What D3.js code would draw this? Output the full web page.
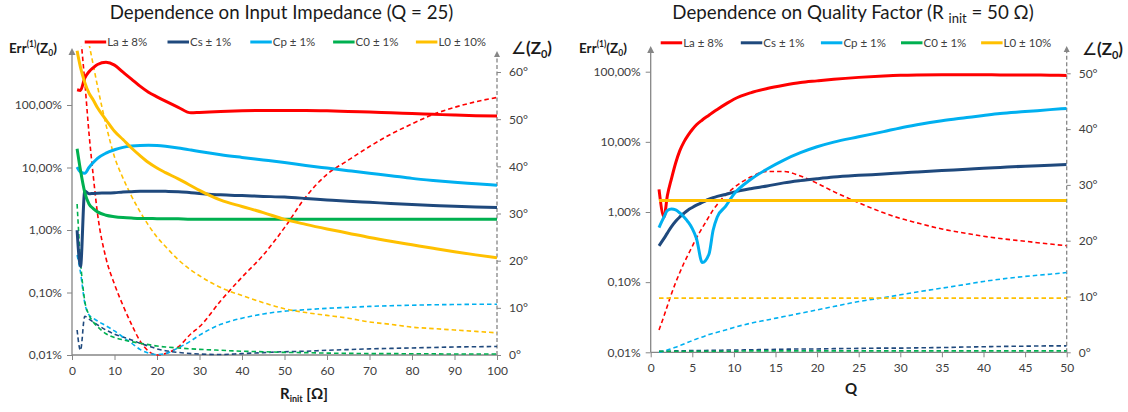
<!DOCTYPE html>
<html>
<head>
<meta charset="utf-8">
<script src="https://cdn.jsdelivr.net/npm/d3@7"></script>
<style>
  body { margin: 0; background: #fff; }
  text { font-family: Lato, "Open Sans", sans-serif; }
</style>
</head>
<body>
<svg id="chart" width="1128" height="412"></svg>
<script>
// ---------- data ----------
const seriesNames = ["La ± 8%", "Cs ± 1%", "Cp ± 1%", "C0 ± 1%", "L0 ± 10%"];

const errTicks = [0.0001, 0.001, 0.01, 0.1, 1];
const errTickLabels = ["0,01%", "0,10%", "1,00%", "10,00%", "100,00%"];
const angleTicksR = [0, 10, 20, 30, 40, 50, 60];
const angleTicksQ = [0, 10, 20, 30, 40, 50];
const rTicks = [0, 10, 20, 30, 40, 50, 60, 70, 80, 90, 100];
const qTicks = [0, 5, 10, 15, 20, 25, 30, 35, 40, 45, 50];

// Dependence on input impedance (Q = 25), x = R_init [Ω]
const rInit = [1.2, 2, 3, 4, 5, 6, 8, 10, 12, 14, 16, 18, 20, 22, 25, 28, 30, 35, 40, 45, 50, 55, 60, 65, 70, 75, 80, 85, 90, 95, 100];
// relative error of Z0 (fraction, 1 = 100 %)
const errLaR = [1.75, 1.71, 2.7, 3.4, 3.95, 4.45, 4.82, 4.35, 3.35, 2.6, 2.0, 1.6, 1.35, 1.15, 0.92, 0.75, 0.76, 0.79, 0.81, 0.82, 0.82, 0.82, 0.81, 0.79, 0.77, 0.75, 0.73, 0.71, 0.69, 0.675, 0.665];
const errCsR = [0.0099, 0.0026, 0.042, 0.038, 0.0385, 0.0388, 0.039, 0.0395, 0.0405, 0.041, 0.0415, 0.0417, 0.0417, 0.0415, 0.041, 0.0395, 0.0385, 0.0365, 0.0355, 0.0345, 0.0336, 0.032, 0.0303, 0.0288, 0.0277, 0.0266, 0.0256, 0.0247, 0.0239, 0.0233, 0.0229];
const errCpR = [0.102, 0.085, 0.081, 0.1, 0.12, 0.14, 0.17, 0.192, 0.21, 0.22, 0.225, 0.226, 0.224, 0.218, 0.205, 0.19, 0.18, 0.16, 0.145, 0.132, 0.12, 0.108, 0.098, 0.089, 0.081, 0.074, 0.067, 0.062, 0.058, 0.055, 0.052];
const errC0R = [0.2, 0.09, 0.04, 0.026, 0.022, 0.0195, 0.0172, 0.0163, 0.0158, 0.0155, 0.0153, 0.0153, 0.0152, 0.0152, 0.0151, 0.0149, 0.0149, 0.0149, 0.0149, 0.0149, 0.0149, 0.0149, 0.0149, 0.0149, 0.0149, 0.0149, 0.0149, 0.0149, 0.0149, 0.0149, 0.0149];
const errL0R = [7.4, 4.0, 2.3, 1.55, 1.2, 0.9, 0.58, 0.38, 0.28, 0.205, 0.155, 0.12, 0.098, 0.083, 0.0656, 0.051, 0.043, 0.030, 0.0238, 0.019, 0.0148, 0.0123, 0.0104, 0.0089, 0.0076, 0.0066, 0.0058, 0.0051, 0.0045, 0.004, 0.0036];
// phase angle of Z0 (degrees)
const angLaR = [null, 68, 58, 47, 38, 30, 20.5, 15, 10.5, 6.5, 3, 0.8, 0, 0.3, 1.7, 4.5, 6, 11.5, 16.5, 21.2, 27, 33.5, 38.3, 41.3, 44.2, 46.8, 49, 51, 52.5, 53.7, 54.6];
const angCsR = [5.3, 1.0, 8.2, 7.6, 7, 6.4, 5.3, 4.4, 3.8, 3.2, 2.5, 1.9, 1.3, 0.9, 0.55, 0.3, 0.2, 0.1, 0.3, 0.5, 0.7, 0.8, 1.0, 1.15, 1.3, 1.4, 1.5, 1.6, 1.7, 1.75, 1.8];
const angCpR = [21.2, 17.5, 11, 8.5, 7.8, 7.2, 6.2, 5.1, 3.8, 2.5, 1.2, 0.4, 0.1, 0.3, 1.5, 3.0, 4.2, 6.5, 7.8, 8.7, 9.3, 9.6, 9.9, 10.1, 10.3, 10.45, 10.55, 10.65, 10.7, 10.75, 10.75];
const angC0R = [32, 20, 11.5, 8.5, 7, 6, 4.5, 3.7, 3.2, 2.8, 2.5, 2.2, 1.9, 1.7, 1.5, 1.3, 1.2, 1.0, 0.8, 0.7, 0.55, 0.5, 0.4, 0.35, 0.3, 0.3, 0.25, 0.25, 0.2, 0.2, 0.2];
const angL0R = [null, null, null, 66, 61.5, 57, 48.8, 42, 37.5, 33.7, 30.4, 27.5, 25, 23, 20.2, 18, 16.8, 14.3, 12.6, 11.1, 9.8, 9, 8.4, 7.8, 7, 6.5, 5.9, 5.6, 5.3, 5, 4.7];

// Dependence on quality factor (R init = 50 Ω), x = Q
const qFactor = [1, 1.6, 2, 2.5, 3, 3.5, 4, 4.5, 5, 5.5, 6.2, 7, 7.5, 8, 9, 10, 12, 14, 16, 18, 20, 22, 25, 28, 30, 32, 35, 38, 40, 42, 45, 48, 50];
const errLaQ = [0.021, 0.0085, 0.017, 0.03, 0.05, 0.075, 0.1, 0.125, 0.15, 0.175, 0.205, 0.24, 0.265, 0.29, 0.345, 0.405, 0.5, 0.575, 0.64, 0.7, 0.74, 0.78, 0.83, 0.87, 0.89, 0.9, 0.905, 0.905, 0.905, 0.9, 0.9, 0.89, 0.885];
const errCsQ = [0.0033, 0.0042, 0.005, 0.0062, 0.0074, 0.0085, 0.0096, 0.0107, 0.0116, 0.0125, 0.0137, 0.0152, 0.016, 0.0167, 0.0178, 0.0192, 0.0215, 0.0235, 0.026, 0.028, 0.0298, 0.0315, 0.0333, 0.0348, 0.036, 0.0372, 0.039, 0.0407, 0.042, 0.0432, 0.045, 0.0463, 0.0474];
const errCpQ = [0.006, 0.0085, 0.0105, 0.011, 0.0107, 0.0097, 0.0085, 0.0072, 0.0058, 0.0042, 0.0019, 0.0025, 0.0055, 0.0085, 0.012, 0.018, 0.029, 0.041, 0.055, 0.07, 0.085, 0.099, 0.118, 0.14, 0.158, 0.175, 0.2, 0.222, 0.238, 0.254, 0.27, 0.288, 0.3];
const errC0Q = [0.0146, 0.0146, 0.0146, 0.0146, 0.0146, 0.0146, 0.0146, 0.0146, 0.0146, 0.0146, 0.0146, 0.0146, 0.0146, 0.0146, 0.0146, 0.0146, 0.0146, 0.0146, 0.0146, 0.0146, 0.0146, 0.0146, 0.0146, 0.0146, 0.0146, 0.0146, 0.0146, 0.0146, 0.0146, 0.0146, 0.0146, 0.0146, 0.0146];
const errL0Q = [0.0146, 0.0146, 0.0146, 0.0146, 0.0146, 0.0146, 0.0146, 0.0146, 0.0146, 0.0146, 0.0146, 0.0146, 0.0146, 0.0146, 0.0146, 0.0146, 0.0146, 0.0146, 0.0146, 0.0146, 0.0146, 0.0146, 0.0146, 0.0146, 0.0146, 0.0146, 0.0146, 0.0146, 0.0146, 0.0146, 0.0146, 0.0146, 0.0146];
const angLaQ = [4, 6.5, 8.3, 10.5, 12.5, 14.3, 16, 17.5, 19, 20.5, 22.3, 24.3, 25.5, 26.5, 28.2, 29.5, 31.4, 32.4, 32.4, 31.6, 30.3, 28.8, 26.8, 25, 24, 23.2, 22.1, 21.3, 20.8, 20.4, 19.9, 19.4, 19.1];
const angCsQ = [0.2, 0.2, 0.2, 0.2, 0.25, 0.25, 0.25, 0.3, 0.3, 0.3, 0.3, 0.35, 0.35, 0.35, 0.4, 0.4, 0.45, 0.5, 0.55, 0.6, 0.6, 0.65, 0.7, 0.75, 0.75, 0.8, 0.85, 0.95, 1.0, 1.05, 1.1, 1.15, 1.15];
const angCpQ = [0, 0.2, 0.4, 0.65, 0.9, 1.2, 1.5, 1.8, 2.1, 2.4, 2.75, 3.2, 3.4, 3.6, 4, 4.45, 5.2, 5.8, 6.4, 7, 7.6, 8.2, 9.1, 9.8, 10.3, 10.8, 11.5, 12.2, 12.7, 13.1, 13.6, 14, 14.3];
const angC0Q = [0.2, 0.2, 0.2, 0.2, 0.2, 0.2, 0.2, 0.2, 0.2, 0.2, 0.2, 0.2, 0.2, 0.2, 0.2, 0.2, 0.25, 0.25, 0.25, 0.25, 0.25, 0.25, 0.25, 0.25, 0.25, 0.25, 0.25, 0.25, 0.25, 0.25, 0.25, 0.25, 0.25];
const angL0Q = [9.7, 9.7, 9.7, 9.7, 9.7, 9.7, 9.7, 9.7, 9.7, 9.7, 9.7, 9.7, 9.7, 9.7, 9.7, 9.7, 9.7, 9.7, 9.7, 9.7, 9.7, 9.7, 9.7, 9.7, 9.7, 9.7, 9.7, 9.7, 9.7, 9.7, 9.7, 9.7, 9.7];

// ---------- styling ----------
const seriesColors = ["#FF0000", "#1F497D", "#00B0F0", "#00B050", "#FFC000"];
const axisGray = "#868686";
const labelGray = "#404040";

const svg = d3.select("#chart");

const panels = [
  {
    id: "imp",
    titleX: 281.5,
    xValues: rInit, xDomain: [0, 100], xTicks: rTicks,
    left: 72, right: 497, bottom: 355, errOneY: 105, angTop: 60, angTopY: 72,
    arrowL: 48, arrowR: 51, clipTop: 46,
    angleTicks: angleTicksR,
    err: [errLaR, errCsR, errCpR, errC0R, errL0R],
    ang: [angLaR, angCsR, angCpR, angC0R, angL0R],
    legendX: 84.7, legendStep: 82.8, legendY: 42,
    errLabelX: 9, errLabelY: 53, angLabelX: 511, angLabelY: 54,
    xLabel: "R", xLabelSub: "init", xLabelTail: " [Ω]", xLabelX: 280, xLabelY: 399
  },
  {
    id: "qf",
    titleX: 853,
    xValues: qFactor, xDomain: [0, 50], xTicks: qTicks,
    left: 650.7, right: 1066.7, bottom: 352.3, errOneY: 71.7, angTop: 50, angTopY: 73.3,
    arrowL: 46, arrowR: 46, clipTop: 45,
    angleTicks: angleTicksQ,
    err: [errLaQ, errCsQ, errCpQ, errC0Q, errL0Q],
    ang: [angLaQ, angCsQ, angCpQ, angC0Q, angL0Q],
    legendX: 660.7, legendStep: 80.1, legendY: 42.8,
    errLabelX: 579, errLabelY: 53, angLabelX: 1082, angLabelY: 55,
    xLabel: "Q", xLabelSub: "", xLabelTail: "", xLabelX: 845, xLabelY: 394
  }
];

function drawPanel(p) {
  const g = svg.append("g");
  const x = d3.scaleLinear().domain(p.xDomain).range([p.left, p.right]);
  const yErr = d3.scaleLog().domain([1e-4, 1]).range([p.bottom, p.errOneY]);
  const yAng = d3.scaleLinear().domain([0, p.angTop]).range([p.bottom, p.angTopY]);

  // title
  const title = g.append("text")
    .attr("x", p.titleX).attr("y", 19).attr("text-anchor", "middle")
    .attr("font-size", 18.7).attr("fill", "#1a1a1a");
  if (p.id === "imp") {
    title.text("Dependence on Input Impedance (Q = 25)");
  } else {
    title.append("tspan").text("Dependence on Quality Factor (R ");
    title.append("tspan").attr("font-size", 13).attr("dy", 4).text("init");
    title.append("tspan").attr("dy", -4).text(" = 50 Ω)");
  }

  // legend
  seriesNames.forEach((name, i) => {
    const lx = p.legendX + i * p.legendStep;
    g.append("line").attr("x1", lx).attr("x2", lx + 21.5).attr("y1", p.legendY).attr("y2", p.legendY)
      .attr("stroke", seriesColors[i]).attr("stroke-width", 3);
    g.append("text").attr("x", lx + 22.5).attr("y", p.legendY + 4).attr("font-size", 11.5)
      .attr("fill", labelGray).text(name);
  });

  // axis captions
  const el = g.append("text").attr("x", p.errLabelX).attr("y", p.errLabelY)
    .attr("font-size", 13.5).attr("font-weight", "bold").attr("fill", "#1a1a1a");
  el.append("tspan").text("Err");
  el.append("tspan").attr("font-size", 8.5).attr("dy", -6).text("(1)");
  el.append("tspan").attr("dy", 6).text("(Z");
  el.append("tspan").attr("font-size", 8.5).attr("dy", 3).text("0");
  el.append("tspan").attr("dy", -3).text(")");

  const al = g.append("text").attr("x", p.angLabelX).attr("y", p.angLabelY)
    .attr("font-size", 17).attr("fill", "#1a1a1a");
  al.append("tspan").text("∠");
  al.append("tspan").attr("font-weight", "bold").text("(Z");
  al.append("tspan").attr("font-weight", "bold").attr("font-size", 11).attr("dy", 4).text("0");
  al.append("tspan").attr("font-weight", "bold").attr("dy", -4).text(")");

  const xl = g.append("text").attr("x", p.xLabelX).attr("y", p.xLabelY)
    .attr("font-size", 15).attr("font-weight", "bold").attr("fill", "#1a1a1a");
  xl.append("tspan").text(p.xLabel);
  if (p.xLabelSub) {
    xl.append("tspan").attr("font-size", 9).attr("dy", 3).text(p.xLabelSub);
    xl.append("tspan").attr("dy", -3).text(p.xLabelTail);
  }

  // axes
  const styleAxis = (sel, size) => {
    sel.select(".domain").remove();
    sel.selectAll(".tick line").attr("stroke", axisGray);
    sel.selectAll(".tick text").attr("fill", labelGray).attr("font-size", size)
      .attr("font-family", "Lato, 'Open Sans', sans-serif");
  };

  const axL = g.append("g").attr("transform", `translate(${p.left},0)`)
    .call(d3.axisLeft(yErr).tickValues(errTicks)
      .tickFormat((d, i) => errTickLabels[i]).tickSize(5).tickPadding(5));
  styleAxis(axL, 12);

  const axR = g.append("g").attr("transform", `translate(${p.right},0)`)
    .call(d3.axisRight(yAng).tickValues(p.angleTicks)
      .tickFormat(d => d + "°").tickSize(4).tickPadding(8));
  styleAxis(axR, 12);

  const axB = g.append("g").attr("transform", `translate(0,${p.bottom})`)
    .call(d3.axisBottom(x).tickValues(p.xTicks).tickSize(5).tickPadding(6));
  styleAxis(axB, 12);

  g.append("line").attr("x1", p.left).attr("x2", p.right)
    .attr("y1", p.bottom).attr("y2", p.bottom).attr("stroke", axisGray).attr("stroke-width", 1.3);
  g.append("line").attr("x1", p.left).attr("x2", p.left)
    .attr("y1", p.bottom).attr("y2", p.arrowL + 5).attr("stroke", axisGray).attr("stroke-width", 1.3);
  g.append("path").attr("d", `M${p.left},${p.arrowL} l-3.5,7 h7 z`).attr("fill", axisGray);
  g.append("line").attr("x1", p.right).attr("x2", p.right)
    .attr("y1", p.bottom).attr("y2", p.arrowR + 5).attr("stroke", axisGray).attr("stroke-width", 1.3)
    .attr("stroke-dasharray", "4,2.5");
  g.append("path").attr("d", `M${p.right},${p.arrowR} l-3,6 h6 z`).attr("fill", axisGray);

  // plot area clip
  const clipId = "clip-" + p.id;
  svg.append("clipPath").attr("id", clipId).append("rect")
    .attr("x", p.left).attr("y", p.clipTop)
    .attr("width", p.right - p.left).attr("height", p.bottom - p.clipTop + 2);
  const plot = g.append("g").attr("clip-path", `url(#${clipId})`);

  const lineOf = (vals, scale) => d3.line()
    .defined((d, i) => vals[i] != null)
    .x((d, i) => x(p.xValues[i]))
    .y((d, i) => scale(vals[i]))
    .curve(d3.curveMonotoneX)(p.xValues);

  // phase curves (dashed, right axis)
  p.ang.forEach((vals, i) => {
    plot.append("path").attr("d", lineOf(vals, yAng))
      .attr("fill", "none").attr("stroke", seriesColors[i])
      .attr("stroke-width", 1.6).attr("stroke-dasharray", "4.5,3");
  });
  // error curves (solid, left axis)
  p.err.forEach((vals, i) => {
    plot.append("path").attr("d", lineOf(vals, yErr))
      .attr("fill", "none").attr("stroke", seriesColors[i])
      .attr("stroke-width", 3).attr("stroke-linejoin", "round");
  });
}

panels.forEach(drawPanel);
</script>
</body>
</html>
